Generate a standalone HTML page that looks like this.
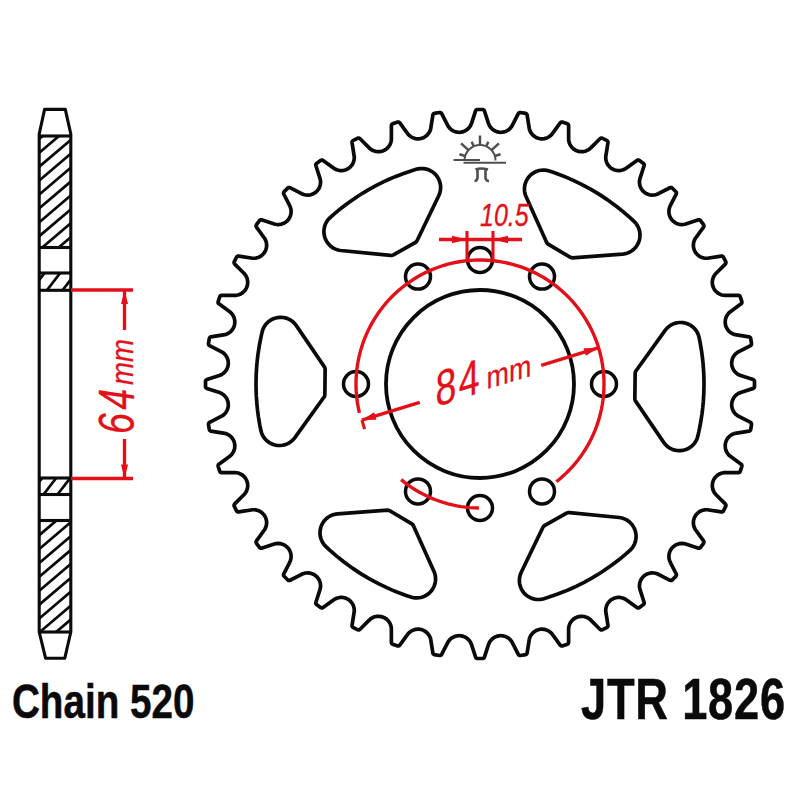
<!DOCTYPE html>
<html><head><meta charset="utf-8"><style>
html,body{margin:0;padding:0;background:#fff;}
svg{display:block;}
text{font-family:"Liberation Sans",sans-serif;}
</style></head><body>
<svg width="800" height="800" viewBox="0 0 800 800">
<defs><clipPath id="hc0"><rect x="39.2" y="136" width="31.599999999999994" height="111.5"/></clipPath><clipPath id="hc1"><rect x="39.2" y="273" width="31.599999999999994" height="17.30000000000001"/></clipPath><clipPath id="hc2"><rect x="39.2" y="478" width="31.599999999999994" height="16.5"/></clipPath><clipPath id="hc3"><rect x="39.2" y="520.5" width="31.599999999999994" height="111.5"/></clipPath></defs>
<rect width="800" height="800" fill="#fff"/>
<path d="M206.90 379.56 L206.38 379.81 L205.96 380.20 L205.66 380.70 L205.52 381.25 L205.52 386.75 L205.66 387.30 L205.96 387.80 L206.38 388.19 L206.90 388.44 L220.31 392.83 L221.37 393.33 L223.15 394.46 L224.06 395.21 L225.50 396.74 L226.75 398.64 L227.23 399.62 L227.91 401.61 L228.28 403.85 L228.27 405.96 L228.13 407.04 L227.55 409.24 L226.68 411.15 L226.10 412.09 L224.68 413.85 L223.10 415.24 L222.12 415.91 L209.56 422.34 L209.09 422.67 L208.84 422.96 L208.58 423.47 L208.47 424.23 L209.29 429.46 L209.47 430.01 L209.93 430.62 L210.23 430.85 L210.77 431.07 L224.89 433.34 L226.96 434.03 L228.02 434.55 L229.79 435.70 L230.68 436.46 L231.45 437.24 L232.74 438.90 L233.33 439.92 L234.16 441.85 L234.69 444.06 L234.83 446.24 L234.62 448.34 L234.37 449.40 L233.59 451.53 L232.54 453.36 L231.88 454.23 L231.09 455.11 L229.48 456.49 L218.89 464.17 L218.48 464.57 L218.27 464.90 L218.07 465.63 L218.11 466.21 L219.81 471.43 L220.11 471.92 L220.39 472.18 L220.88 472.47 L221.44 472.61 L234.71 472.60 L236.83 472.78 L237.99 473.02 L239.03 473.34 L240.95 474.20 L242.78 475.41 L244.37 476.91 L245.74 478.72 L246.70 480.59 L247.08 481.62 L247.39 482.75 L247.69 484.84 L247.70 486.01 L247.47 488.10 L246.83 490.29 L245.88 492.25 L244.60 494.03 L234.52 504.17 L234.22 504.66 L234.07 505.22 L234.09 505.79 L234.19 506.16 L236.69 511.06 L237.22 511.61 L237.73 511.87 L238.30 511.97 L238.68 511.94 L252.62 509.76 L253.80 509.73 L255.89 509.92 L258.09 510.51 L260.00 511.39 L260.93 511.97 L262.69 513.41 L263.44 514.20 L264.68 515.90 L265.26 516.93 L266.04 518.88 L266.52 521.10 L266.61 522.19 L266.53 524.29 L266.06 526.51 L265.28 528.47 L264.72 529.50 L256.44 540.93 L256.25 541.26 L256.08 541.81 L256.08 542.39 L256.33 543.11 L259.44 547.41 L259.84 547.82 L260.53 548.15 L261.10 548.22 L261.48 548.17 L275.09 543.79 L276.25 543.56 L278.43 543.43 L280.53 543.66 L281.67 543.93 L283.64 544.67 L284.61 545.17 L286.47 546.48 L287.97 547.95 L288.70 548.88 L289.81 550.76 L290.57 552.73 L290.84 553.79 L291.10 556.04 L290.99 558.23 L290.50 560.36 L289.70 562.33 L283.67 574.15 L283.53 574.71 L283.57 575.28 L283.76 575.82 L284.10 576.29 L287.86 580.03 L288.53 580.39 L289.10 580.47 L289.48 580.44 L290.03 580.25 L301.67 574.30 L303.64 573.50 L304.78 573.19 L305.86 573.00 L307.96 572.90 L310.21 573.16 L312.23 573.75 L313.24 574.19 L315.19 575.35 L316.79 576.72 L317.52 577.53 L318.24 578.46 L319.30 580.28 L320.10 582.41 L320.49 584.47 L320.57 585.57 L320.44 587.75 L320.21 588.91 L315.83 602.52 L315.81 603.28 L315.98 603.83 L316.18 604.16 L316.59 604.56 L320.89 607.67 L321.42 607.88 L322.19 607.92 L322.56 607.82 L323.07 607.56 L334.50 599.28 L335.53 598.72 L337.49 597.94 L339.71 597.47 L341.81 597.39 L342.99 597.49 L345.04 597.93 L346.07 598.30 L348.10 599.32 L349.80 600.56 L350.59 601.31 L352.03 603.07 L353.07 604.90 L353.49 605.91 L354.08 608.11 L354.27 610.20 L354.24 611.38 L352.06 625.32 L352.05 625.90 L352.13 626.27 L352.51 626.94 L352.94 627.31 L357.84 629.81 L358.40 629.94 L358.97 629.90 L359.34 629.78 L359.83 629.48 L369.21 620.09 L370.83 618.72 L371.82 618.08 L372.79 617.57 L374.75 616.81 L376.89 616.38 L379.08 616.31 L381.33 616.63 L382.38 616.92 L384.33 617.72 L385.35 618.31 L387.03 619.57 L388.59 621.22 L389.76 622.97 L390.28 624.03 L391.00 626.10 L391.35 628.25 L391.39 642.56 L391.53 643.12 L391.82 643.61 L392.24 644.01 L392.57 644.19 L397.79 645.89 L398.37 645.93 L399.10 645.73 L399.58 645.40 L399.83 645.11 L408.15 633.71 L408.95 632.85 L410.57 631.51 L412.54 630.38 L414.52 629.65 L415.58 629.40 L417.84 629.17 L418.93 629.20 L421.01 629.52 L422.15 629.84 L424.08 630.67 L425.99 631.90 L427.54 633.32 L428.25 634.15 L429.49 636.05 L430.33 637.98 L430.66 639.11 L432.89 653.05 L433.06 653.60 L433.26 653.93 L433.82 654.44 L434.35 654.67 L439.58 655.51 L440.16 655.51 L440.53 655.42 L441.04 655.16 L441.57 654.60 L448.09 641.88 L449.39 640.12 L450.21 639.27 L451.84 637.94 L452.85 637.32 L454.76 636.45 L455.81 636.13 L458.04 635.73 L460.15 635.72 L461.32 635.86 L463.44 636.40 L465.36 637.25 L466.30 637.81 L468.08 639.22 L469.54 640.85 L470.71 642.70 L471.53 644.66 L475.63 657.28 L475.93 657.77 L476.36 658.16 L476.88 658.40 L477.45 658.49 L482.75 658.48 L483.48 658.25 L483.94 657.91 L484.19 657.62 L484.44 657.10 L488.47 644.66 L489.29 642.70 L489.88 641.68 L490.51 640.78 L491.92 639.22 L493.70 637.81 L494.64 637.25 L496.56 636.40 L498.77 635.85 L499.85 635.72 L501.96 635.73 L504.19 636.13 L506.17 636.83 L507.23 637.37 L508.16 637.94 L509.79 639.27 L510.61 640.12 L511.91 641.88 L518.43 654.60 L518.67 654.91 L519.12 655.26 L519.84 655.51 L520.42 655.51 L525.65 654.67 L526.18 654.44 L526.74 653.93 L527.01 653.42 L527.11 653.05 L529.34 639.11 L529.67 637.98 L530.51 636.05 L531.11 635.04 L532.40 633.38 L534.08 631.84 L535.84 630.71 L536.83 630.23 L538.99 629.52 L541.07 629.20 L542.16 629.17 L544.42 629.40 L545.48 629.65 L547.46 630.38 L549.43 631.51 L551.05 632.85 L551.85 633.71 L560.17 645.11 L560.57 645.52 L560.90 645.73 L561.63 645.93 L562.21 645.89 L567.43 644.19 L567.76 644.01 L568.18 643.61 L568.47 643.12 L568.61 642.56 L568.60 629.29 L568.78 627.17 L569.02 626.01 L569.34 624.97 L570.20 623.05 L571.41 621.22 L572.97 619.57 L574.72 618.26 L576.59 617.30 L577.62 616.92 L578.75 616.61 L580.84 616.31 L582.01 616.30 L584.10 616.53 L586.29 617.17 L588.25 618.12 L590.03 619.40 L600.17 629.48 L600.66 629.78 L601.03 629.90 L601.60 629.94 L602.16 629.81 L607.06 627.31 L607.49 626.94 L607.87 626.27 L607.95 625.90 L607.94 625.32 L605.76 611.38 L605.73 610.20 L605.92 608.11 L606.51 605.91 L606.93 604.90 L607.97 603.07 L609.41 601.31 L610.20 600.56 L611.90 599.32 L613.93 598.30 L615.94 597.68 L617.10 597.48 L618.19 597.39 L620.29 597.47 L622.51 597.94 L624.47 598.72 L625.50 599.28 L636.93 607.56 L637.44 607.82 L637.81 607.92 L638.39 607.92 L639.11 607.67 L643.41 604.56 L643.82 604.16 L644.15 603.47 L644.22 602.90 L644.17 602.52 L639.79 588.91 L639.56 587.75 L639.43 585.57 L639.66 583.47 L639.93 582.33 L640.67 580.36 L641.17 579.39 L642.48 577.53 L643.95 576.03 L644.88 575.30 L645.80 574.71 L647.69 573.78 L649.79 573.16 L652.04 572.90 L654.23 573.01 L656.36 573.50 L658.33 574.30 L670.15 580.33 L670.71 580.47 L671.28 580.43 L671.82 580.24 L672.29 579.90 L676.03 576.14 L676.32 575.65 L676.47 574.90 L676.40 574.33 L676.25 573.97 L670.30 562.33 L669.50 560.36 L669.19 559.22 L669.00 558.14 L668.90 556.04 L669.16 553.79 L669.75 551.77 L670.19 550.76 L671.35 548.81 L672.03 547.95 L673.53 546.48 L675.39 545.17 L676.36 544.67 L678.33 543.93 L679.47 543.66 L681.57 543.43 L683.75 543.56 L684.91 543.79 L698.52 548.17 L698.90 548.22 L699.47 548.15 L700.16 547.82 L700.56 547.41 L703.67 543.11 L703.92 542.39 L703.92 541.81 L703.75 541.26 L703.56 540.93 L695.28 529.50 L694.72 528.47 L693.94 526.51 L693.47 524.29 L693.39 522.19 L693.48 521.10 L693.68 519.94 L694.30 517.93 L695.32 515.90 L696.56 514.20 L697.31 513.41 L699.07 511.97 L700.90 510.93 L701.91 510.51 L704.11 509.92 L706.20 509.73 L707.38 509.76 L721.32 511.94 L721.90 511.95 L722.27 511.87 L722.94 511.49 L723.31 511.06 L725.81 506.16 L725.94 505.60 L725.90 505.03 L725.78 504.66 L725.48 504.17 L716.09 494.79 L714.72 493.17 L714.08 492.18 L713.57 491.21 L712.81 489.25 L712.38 487.11 L712.31 484.92 L712.63 482.67 L712.92 481.62 L713.72 479.67 L714.31 478.65 L715.57 476.97 L717.22 475.41 L718.97 474.24 L720.03 473.72 L722.10 473.00 L724.25 472.65 L738.56 472.61 L739.12 472.47 L739.61 472.18 L740.01 471.76 L740.19 471.43 L741.89 466.21 L741.93 465.63 L741.73 464.90 L741.40 464.42 L741.11 464.17 L729.71 455.85 L728.85 455.05 L727.51 453.43 L726.38 451.46 L725.65 449.48 L725.40 448.42 L725.17 446.16 L725.31 444.06 L725.52 442.99 L726.23 440.83 L726.71 439.84 L727.84 438.08 L729.38 436.40 L731.04 435.11 L732.05 434.51 L733.98 433.67 L735.11 433.34 L749.05 431.11 L749.60 430.94 L749.93 430.74 L750.44 430.18 L750.67 429.65 L751.51 424.42 L751.51 423.84 L751.42 423.47 L751.16 422.96 L750.60 422.43 L737.88 415.91 L736.12 414.61 L735.27 413.79 L733.94 412.16 L733.37 411.23 L732.83 410.17 L732.13 408.19 L731.73 405.96 L731.72 403.85 L731.86 402.68 L732.40 400.56 L733.25 398.64 L733.81 397.70 L735.22 395.92 L736.85 394.46 L738.70 393.29 L740.66 392.47 L753.28 388.37 L753.77 388.07 L754.16 387.64 L754.40 387.12 L754.49 386.55 L754.48 381.25 L754.25 380.52 L753.91 380.06 L753.62 379.81 L753.10 379.56 L740.66 375.53 L738.70 374.71 L737.68 374.12 L736.78 373.49 L735.22 372.08 L733.81 370.30 L733.25 369.36 L732.40 367.44 L731.85 365.23 L731.72 364.15 L731.73 362.04 L732.13 359.81 L732.45 358.76 L733.32 356.85 L733.94 355.84 L735.27 354.21 L736.12 353.39 L737.88 352.09 L750.60 345.57 L751.16 345.04 L751.42 344.53 L751.51 344.16 L751.51 343.58 L750.67 338.35 L750.44 337.82 L749.93 337.26 L749.60 337.06 L749.05 336.89 L735.11 334.66 L733.98 334.33 L732.05 333.49 L730.15 332.25 L729.32 331.54 L727.90 329.99 L726.67 328.08 L725.84 326.15 L725.52 325.01 L725.31 323.94 L725.17 321.84 L725.40 319.58 L725.65 318.52 L726.38 316.54 L727.51 314.57 L728.85 312.95 L729.71 312.15 L741.11 303.83 L741.52 303.43 L741.73 303.10 L741.93 302.37 L741.89 301.79 L740.19 296.57 L739.89 296.08 L739.61 295.82 L739.12 295.53 L738.56 295.39 L725.29 295.40 L723.17 295.22 L722.01 294.98 L720.97 294.66 L719.05 293.80 L717.22 292.59 L715.57 291.03 L714.26 289.28 L713.30 287.41 L712.92 286.38 L712.61 285.25 L712.31 283.16 L712.30 281.99 L712.53 279.90 L713.17 277.71 L714.12 275.75 L715.40 273.97 L725.48 263.83 L725.78 263.34 L725.90 262.97 L725.94 262.40 L725.81 261.84 L723.31 256.94 L722.94 256.51 L722.27 256.13 L721.90 256.05 L721.32 256.06 L707.38 258.24 L706.20 258.27 L704.11 258.08 L701.91 257.49 L700.00 256.61 L699.07 256.03 L697.31 254.59 L696.56 253.80 L695.32 252.10 L694.74 251.07 L693.96 249.12 L693.48 246.90 L693.39 245.81 L693.47 243.71 L693.94 241.49 L694.72 239.53 L695.28 238.50 L703.56 227.07 L703.82 226.56 L703.92 226.19 L703.92 225.61 L703.67 224.89 L700.56 220.59 L700.16 220.18 L699.47 219.85 L699.09 219.79 L698.52 219.83 L684.91 224.21 L682.74 224.54 L681.57 224.57 L679.47 224.34 L678.33 224.07 L677.29 223.73 L675.39 222.83 L673.53 221.52 L672.03 220.05 L671.30 219.12 L670.23 217.31 L669.78 216.31 L669.16 214.21 L668.90 211.96 L669.01 209.77 L669.50 207.64 L670.30 205.67 L676.33 193.85 L676.47 193.29 L676.43 192.72 L676.24 192.18 L675.90 191.71 L672.14 187.97 L671.65 187.68 L670.90 187.53 L670.52 187.56 L669.97 187.75 L658.33 193.70 L656.36 194.50 L655.22 194.81 L654.14 195.00 L652.04 195.10 L649.79 194.84 L648.73 194.57 L646.76 193.81 L644.81 192.65 L643.21 191.28 L642.42 190.41 L641.21 188.69 L640.70 187.72 L639.90 185.59 L639.66 184.53 L639.43 182.43 L639.56 180.25 L639.79 179.09 L644.17 165.48 L644.22 165.10 L644.15 164.53 L643.82 163.84 L643.41 163.44 L639.11 160.33 L638.39 160.08 L637.81 160.08 L637.26 160.25 L636.93 160.44 L625.50 168.72 L624.47 169.28 L622.51 170.06 L620.29 170.53 L619.20 170.61 L617.10 170.52 L614.88 170.04 L612.93 169.26 L611.90 168.68 L610.20 167.44 L609.41 166.69 L607.97 164.93 L607.39 164.00 L606.51 162.09 L605.92 159.89 L605.73 157.80 L605.76 156.62 L607.94 142.68 L607.95 142.10 L607.87 141.73 L607.61 141.22 L607.06 140.69 L602.16 138.19 L601.60 138.06 L601.22 138.07 L600.66 138.22 L600.17 138.52 L590.79 147.91 L589.17 149.28 L588.18 149.92 L586.21 150.86 L585.17 151.21 L583.11 151.62 L580.92 151.69 L578.67 151.37 L576.67 150.73 L575.67 150.28 L574.65 149.69 L572.97 148.43 L571.41 146.78 L570.24 145.03 L569.72 143.97 L569.00 141.90 L568.65 139.75 L568.61 125.44 L568.47 124.88 L568.18 124.39 L567.76 123.99 L567.43 123.81 L562.21 122.11 L561.63 122.07 L560.90 122.27 L560.42 122.60 L560.17 122.89 L551.85 134.29 L551.05 135.15 L549.43 136.49 L547.46 137.62 L546.45 138.04 L544.42 138.60 L542.16 138.83 L541.07 138.80 L538.99 138.48 L536.83 137.77 L535.84 137.29 L534.08 136.16 L532.40 134.62 L531.11 132.96 L530.51 131.95 L529.67 130.02 L529.34 128.89 L527.11 114.95 L527.01 114.58 L526.74 114.07 L526.18 113.56 L525.65 113.33 L520.42 112.49 L519.84 112.49 L519.12 112.74 L518.67 113.09 L518.43 113.40 L511.91 126.12 L511.24 127.10 L509.79 128.73 L508.16 130.06 L507.23 130.63 L506.17 131.17 L504.19 131.87 L501.96 132.27 L499.85 132.28 L498.68 132.14 L496.56 131.60 L495.55 131.19 L493.70 130.19 L491.98 128.84 L490.46 127.15 L489.29 125.30 L488.47 123.34 L484.37 110.72 L484.07 110.23 L483.64 109.84 L483.12 109.60 L482.55 109.51 L477.25 109.52 L476.52 109.75 L476.06 110.09 L475.81 110.38 L475.56 110.90 L471.53 123.34 L470.71 125.30 L470.12 126.32 L469.49 127.22 L468.08 128.78 L466.30 130.19 L464.45 131.19 L463.44 131.60 L461.23 132.15 L460.15 132.28 L458.04 132.27 L455.81 131.87 L453.83 131.17 L452.77 130.63 L451.03 129.46 L450.21 128.73 L448.76 127.10 L448.09 126.12 L441.57 113.40 L441.04 112.84 L440.53 112.58 L440.16 112.49 L439.58 112.49 L434.35 113.33 L433.66 113.67 L433.26 114.07 L432.99 114.58 L432.89 114.95 L430.66 128.89 L430.33 130.02 L429.49 131.95 L428.25 133.85 L426.83 135.40 L425.92 136.16 L424.16 137.29 L423.17 137.77 L421.01 138.48 L419.94 138.69 L417.84 138.83 L415.58 138.60 L414.52 138.35 L412.54 137.62 L410.57 136.49 L408.95 135.15 L408.15 134.29 L399.83 122.89 L399.43 122.48 L399.10 122.27 L398.56 122.09 L397.79 122.11 L392.57 123.81 L392.08 124.11 L391.82 124.39 L391.53 124.88 L391.39 125.44 L391.40 138.71 L391.22 140.83 L390.98 141.99 L390.66 143.03 L389.80 144.95 L388.59 146.78 L387.09 148.37 L385.28 149.74 L383.41 150.70 L382.38 151.08 L381.25 151.39 L379.16 151.69 L377.99 151.70 L375.90 151.47 L373.71 150.83 L371.75 149.88 L369.97 148.60 L359.83 138.52 L359.34 138.22 L358.78 138.07 L358.21 138.09 L357.84 138.19 L352.94 140.69 L352.51 141.06 L352.13 141.73 L352.03 142.30 L352.06 142.68 L354.24 156.62 L354.27 157.80 L354.08 159.89 L353.49 162.09 L352.61 164.00 L352.03 164.93 L350.59 166.69 L349.01 168.07 L348.10 168.68 L346.07 169.70 L344.06 170.32 L342.90 170.52 L341.81 170.61 L339.71 170.53 L337.49 170.06 L335.53 169.28 L334.50 168.72 L323.07 160.44 L322.74 160.25 L322.19 160.08 L321.42 160.12 L320.89 160.33 L316.59 163.44 L316.18 163.84 L315.98 164.17 L315.81 164.72 L315.83 165.48 L320.21 179.09 L320.44 180.25 L320.57 182.43 L320.34 184.53 L320.07 185.67 L319.33 187.64 L318.83 188.61 L317.52 190.47 L316.05 191.97 L315.12 192.70 L313.24 193.81 L311.27 194.57 L310.21 194.84 L308.04 195.10 L305.77 194.99 L303.64 194.50 L301.67 193.70 L289.85 187.67 L289.29 187.53 L288.72 187.57 L288.18 187.76 L287.71 188.10 L283.97 191.86 L283.68 192.35 L283.53 193.10 L283.56 193.48 L283.75 194.03 L289.70 205.67 L290.50 207.64 L290.81 208.78 L291.00 209.86 L291.10 211.96 L290.84 214.21 L290.25 216.23 L289.81 217.24 L288.65 219.19 L287.28 220.79 L286.41 221.58 L285.54 222.24 L283.72 223.30 L281.59 224.10 L279.53 224.49 L278.43 224.57 L277.26 224.54 L275.09 224.21 L261.48 219.83 L260.91 219.79 L260.53 219.85 L259.84 220.18 L259.44 220.59 L256.33 224.89 L256.08 225.61 L256.08 226.19 L256.25 226.74 L256.44 227.07 L264.72 238.50 L265.28 239.53 L266.06 241.49 L266.53 243.71 L266.61 245.81 L266.51 246.99 L266.07 249.04 L265.70 250.07 L264.68 252.10 L263.44 253.80 L262.69 254.59 L260.93 256.03 L260.00 256.61 L258.09 257.49 L255.89 258.08 L253.80 258.27 L252.62 258.24 L238.68 256.06 L238.30 256.03 L237.73 256.13 L237.06 256.51 L236.69 256.94 L234.19 261.84 L234.09 262.21 L234.07 262.78 L234.22 263.34 L234.52 263.83 L243.91 273.21 L245.28 274.83 L245.92 275.82 L246.83 277.71 L247.19 278.75 L247.62 280.89 L247.69 283.16 L247.37 285.33 L246.73 287.33 L246.28 288.33 L245.69 289.35 L244.43 291.03 L242.78 292.59 L241.03 293.76 L239.97 294.28 L237.90 295.00 L235.75 295.35 L221.44 295.39 L220.88 295.53 L220.39 295.82 L220.11 296.08 L219.81 296.57 L218.11 301.79 L218.09 302.56 L218.27 303.10 L218.60 303.58 L218.89 303.83 L229.48 311.51 L231.09 312.89 L231.88 313.77 L232.54 314.64 L233.59 316.47 L234.37 318.60 L234.76 320.66 L234.83 321.76 L234.68 324.02 L234.47 325.10 L233.80 327.09 L232.74 329.10 L232.10 329.99 L230.68 331.54 L229.79 332.30 L228.02 333.45 L226.96 333.97 L224.89 334.66 L210.77 336.93 L210.40 337.06 L209.93 337.38 L209.47 337.99 L209.29 338.54 L208.47 343.77 L208.58 344.53 L208.84 345.04 L209.09 345.33 L209.56 345.66 L222.12 352.09 L223.10 352.76 L224.68 354.15 L226.10 355.91 L227.13 357.75 L227.55 358.76 L228.13 360.96 L228.32 363.05 L228.28 364.15 L227.91 366.39 L227.23 368.38 L226.75 369.36 L225.50 371.26 L224.06 372.79 L223.15 373.54 L221.30 374.71 L219.34 375.53 L206.90 379.56Z" fill="none" stroke="#0a0a0a" stroke-width="3.7" stroke-linejoin="round"/>
<path d="M548.55 244.43 L570.36 257.37 L571.32 257.70 L572.58 257.83 L622.39 254.13 L624.25 253.90 L626.96 253.22 L628.71 252.55 L630.37 251.70 L631.95 250.70 L633.42 249.55 L634.77 248.26 L635.99 246.85 L637.06 245.32 L637.98 243.69 L638.73 241.98 L639.31 240.21 L639.71 238.38 L639.94 236.53 L639.98 234.66 L639.84 232.80 L639.51 230.96 L639.01 229.16 L638.33 227.42 L637.48 225.76 L636.48 224.18 L635.32 222.72 L634.03 221.37 L630.58 218.16 L623.63 212.11 L616.63 206.50 L611.85 202.92 L607.18 199.61 L599.70 194.66 L591.81 189.90 L586.81 187.11 L581.52 184.33 L573.22 180.32 L567.75 177.90 L562.46 175.73 L553.82 172.51 L548.46 170.74 L546.63 170.34 L544.78 170.12 L542.91 170.08 L541.05 170.22 L539.21 170.54 L537.41 171.05 L535.67 171.73 L534.01 172.57 L532.44 173.58 L530.97 174.73 L529.62 176.03 L528.41 177.45 L527.34 178.98 L526.43 180.61 L525.68 182.32 L525.10 184.10 L524.70 185.92 L524.48 187.78 L524.45 189.64 L524.60 191.50 L524.93 193.34 L525.44 195.14 L526.12 196.88 L546.55 242.19 L546.91 242.85 L547.55 243.65 L548.55 244.43Z" fill="none" stroke="#0a0a0a" stroke-width="3.7"/>
<path d="M635.15 373.58 L634.85 398.93 L635.04 399.93 L635.56 401.09 L663.67 442.38 L664.79 443.87 L666.74 445.88 L668.20 447.06 L669.76 448.08 L671.41 448.94 L673.14 449.64 L674.94 450.17 L676.77 450.51 L678.63 450.68 L680.50 450.66 L682.36 450.45 L684.18 450.07 L685.97 449.51 L687.68 448.78 L689.32 447.88 L690.86 446.82 L692.29 445.62 L693.60 444.29 L694.76 442.83 L695.78 441.26 L696.64 439.61 L697.34 437.87 L697.86 436.08 L698.91 431.48 L700.68 422.44 L702.04 413.58 L702.75 407.64 L703.28 401.94 L703.82 392.99 L704.00 383.78 L703.92 378.06 L703.68 372.08 L703.00 362.89 L702.36 356.95 L701.60 351.28 L700.06 342.19 L698.92 336.66 L698.35 334.88 L697.62 333.16 L696.72 331.52 L695.67 329.98 L694.46 328.55 L693.13 327.25 L691.67 326.08 L690.10 325.06 L688.45 324.20 L686.71 323.51 L684.92 322.99 L683.08 322.65 L681.22 322.49 L679.36 322.51 L677.50 322.72 L675.67 323.11 L673.89 323.67 L672.18 324.41 L670.54 325.32 L669.00 326.37 L667.58 327.58 L666.28 328.92 L665.11 330.38 L636.09 370.72 L635.69 371.37 L635.32 372.32 L635.15 373.58Z" fill="none" stroke="#0a0a0a" stroke-width="3.7"/>
<path d="M566.60 513.15 L544.49 525.57 L543.72 526.23 L542.98 527.26 L521.27 572.25 L520.54 573.97 L519.78 576.66 L519.49 578.51 L519.39 580.37 L519.46 582.24 L519.73 584.09 L520.17 585.90 L520.79 587.67 L521.57 589.36 L522.52 590.97 L523.63 592.47 L524.87 593.86 L526.25 595.13 L527.74 596.25 L529.34 597.21 L531.03 598.02 L532.78 598.66 L534.59 599.12 L536.44 599.40 L538.30 599.51 L540.17 599.42 L542.01 599.16 L543.83 598.71 L548.33 597.32 L557.05 594.33 L565.41 591.08 L570.90 588.73 L576.10 586.34 L584.12 582.33 L592.19 577.88 L597.11 574.95 L602.16 571.76 L609.78 566.57 L614.61 563.04 L619.14 559.55 L626.24 553.67 L630.46 549.91 L631.72 548.54 L632.84 547.04 L633.81 545.45 L634.61 543.76 L635.25 542.01 L635.71 540.20 L636.00 538.35 L636.10 536.49 L636.01 534.62 L635.74 532.77 L635.30 530.96 L634.68 529.20 L633.88 527.51 L632.93 525.90 L631.82 524.40 L630.57 523.01 L629.19 521.75 L627.69 520.64 L626.09 519.67 L624.41 518.87 L622.65 518.24 L620.84 517.78 L618.99 517.50 L569.54 512.54 L568.78 512.52 L567.78 512.68 L566.60 513.15Z" fill="none" stroke="#0a0a0a" stroke-width="3.7"/>
<path d="M411.45 523.57 L389.64 510.63 L388.68 510.30 L387.42 510.17 L337.61 513.87 L335.75 514.10 L333.04 514.78 L331.29 515.45 L329.63 516.30 L328.05 517.30 L326.58 518.45 L325.23 519.74 L324.01 521.15 L322.94 522.68 L322.02 524.31 L321.27 526.02 L320.69 527.79 L320.29 529.62 L320.06 531.47 L320.02 533.34 L320.16 535.20 L320.49 537.04 L320.99 538.84 L321.67 540.58 L322.52 542.24 L323.52 543.82 L324.68 545.28 L325.97 546.63 L329.42 549.84 L336.37 555.89 L343.37 561.50 L348.15 565.08 L352.82 568.39 L360.30 573.34 L368.19 578.10 L373.19 580.89 L378.48 583.67 L386.78 587.68 L392.25 590.10 L397.54 592.27 L406.18 595.49 L411.54 597.26 L413.37 597.66 L415.22 597.88 L417.09 597.92 L418.95 597.78 L420.79 597.46 L422.59 596.95 L424.33 596.27 L425.99 595.43 L427.56 594.42 L429.03 593.27 L430.38 591.97 L431.59 590.55 L432.66 589.02 L433.57 587.39 L434.32 585.68 L434.90 583.90 L435.30 582.08 L435.52 580.22 L435.55 578.36 L435.40 576.50 L435.07 574.66 L434.56 572.86 L433.88 571.12 L413.45 525.81 L413.09 525.15 L412.45 524.35 L411.45 523.57Z" fill="none" stroke="#0a0a0a" stroke-width="3.7"/>
<path d="M324.85 394.42 L325.15 369.07 L324.96 368.07 L324.44 366.91 L296.33 325.62 L295.21 324.13 L293.26 322.12 L291.80 320.94 L290.24 319.92 L288.59 319.06 L286.86 318.36 L285.06 317.83 L283.23 317.49 L281.37 317.32 L279.50 317.34 L277.64 317.55 L275.82 317.93 L274.03 318.49 L272.32 319.22 L270.68 320.12 L269.14 321.18 L267.71 322.38 L266.40 323.71 L265.24 325.17 L264.22 326.74 L263.36 328.39 L262.66 330.13 L262.14 331.92 L261.09 336.52 L259.32 345.56 L257.96 354.42 L257.25 360.36 L256.72 366.06 L256.18 375.01 L256.00 384.22 L256.08 389.94 L256.32 395.92 L257.00 405.11 L257.64 411.05 L258.40 416.72 L259.94 425.81 L261.08 431.34 L261.65 433.12 L262.38 434.84 L263.28 436.48 L264.33 438.02 L265.54 439.45 L266.87 440.75 L268.33 441.92 L269.90 442.94 L271.55 443.80 L273.29 444.49 L275.08 445.01 L276.92 445.35 L278.78 445.51 L280.64 445.49 L282.50 445.28 L284.33 444.89 L286.11 444.33 L287.82 443.59 L289.46 442.68 L291.00 441.63 L292.42 440.42 L293.72 439.08 L294.89 437.62 L323.91 397.28 L324.31 396.63 L324.68 395.68 L324.85 394.42Z" fill="none" stroke="#0a0a0a" stroke-width="3.7"/>
<path d="M393.40 254.85 L415.51 242.43 L416.28 241.77 L417.02 240.74 L438.73 195.75 L439.46 194.03 L440.22 191.34 L440.51 189.49 L440.61 187.63 L440.54 185.76 L440.27 183.91 L439.83 182.10 L439.21 180.33 L438.43 178.64 L437.48 177.03 L436.37 175.53 L435.13 174.14 L433.75 172.87 L432.26 171.75 L430.66 170.79 L428.97 169.98 L427.22 169.34 L425.41 168.88 L423.56 168.60 L421.70 168.49 L419.83 168.58 L417.99 168.84 L416.17 169.29 L411.67 170.68 L402.95 173.67 L394.59 176.92 L389.10 179.27 L383.90 181.66 L375.88 185.67 L367.81 190.12 L362.89 193.05 L357.84 196.24 L350.22 201.43 L345.39 204.96 L340.86 208.45 L333.76 214.33 L329.54 218.09 L328.28 219.46 L327.16 220.96 L326.19 222.55 L325.39 224.24 L324.75 225.99 L324.29 227.80 L324.00 229.65 L323.90 231.51 L323.99 233.38 L324.26 235.23 L324.70 237.04 L325.32 238.80 L326.12 240.49 L327.07 242.10 L328.18 243.60 L329.43 244.99 L330.81 246.25 L332.31 247.36 L333.91 248.33 L335.59 249.13 L337.35 249.76 L339.16 250.22 L341.01 250.50 L390.46 255.46 L391.22 255.48 L392.22 255.32 L393.40 254.85Z" fill="none" stroke="#0a0a0a" stroke-width="3.7"/>
<circle cx="480.0" cy="384.0" r="94.0" fill="none" stroke="#0a0a0a" stroke-width="3.8"/>
<circle cx="480.00" cy="260.00" r="12.5" fill="none" stroke="#0a0a0a" stroke-width="3.5"/>
<circle cx="542.00" cy="276.61" r="12.5" fill="none" stroke="#0a0a0a" stroke-width="3.5"/>
<circle cx="604.00" cy="384.00" r="12.5" fill="none" stroke="#0a0a0a" stroke-width="3.5"/>
<circle cx="542.00" cy="491.39" r="12.5" fill="none" stroke="#0a0a0a" stroke-width="3.5"/>
<circle cx="480.00" cy="508.00" r="12.5" fill="none" stroke="#0a0a0a" stroke-width="3.5"/>
<circle cx="418.00" cy="491.39" r="12.5" fill="none" stroke="#0a0a0a" stroke-width="3.5"/>
<circle cx="356.00" cy="384.00" r="12.5" fill="none" stroke="#0a0a0a" stroke-width="3.5"/>
<circle cx="418.00" cy="276.61" r="12.5" fill="none" stroke="#0a0a0a" stroke-width="3.5"/>
<path d="M359.43 412.95 L358.48 408.70 L357.69 404.41 L357.05 400.11 L356.56 395.78 L356.22 391.44 L356.04 387.09 L356.01 382.73 L356.13 378.38 L356.40 374.03 L356.83 369.70 L357.41 365.38 L358.13 361.09 L359.01 356.82 L360.04 352.59 L361.22 348.40 L362.54 344.25 L364.01 340.15 L365.62 336.11 L367.38 332.12 L369.27 328.20 L371.29 324.34 L373.46 320.56 L375.75 316.86 L378.17 313.24 L380.72 309.71 L383.39 306.27 L386.18 302.92 L389.08 299.68 L392.10 296.54 L395.22 293.51 L398.45 290.58 L401.79 287.78 L405.21 285.09 L408.73 282.53 L412.34 280.09 L416.03 277.78 L419.80 275.59 L423.64 273.55 L427.56 271.64 L431.53 269.86 L435.57 268.23 L439.66 266.74 L443.81 265.40 L447.99 264.20 L452.22 263.15 L456.48 262.25 L460.77 261.50 L465.08 260.90 L469.41 260.45 L473.76 260.16 L478.11 260.01 L482.47 260.02 L486.82 260.19 L491.16 260.50 L495.49 260.97 L499.80 261.59 L504.09 262.36 L508.34 263.28 L512.56 264.35 L516.75 265.57 L520.88 266.93 L524.97 268.44 L529.00 270.09 L532.97 271.88 L536.87 273.81 L540.71 275.88 L544.46 278.07 L548.14 280.40 L551.74 282.86 L555.25 285.44 L558.66 288.14 L561.98 290.97 L565.19 293.90 L568.31 296.95 L571.31 300.10 L574.20 303.36 L576.97 306.72 L579.63 310.17 L582.16 313.71 L584.56 317.34 L586.84 321.06 L588.98 324.85 L590.99 328.71 L592.86 332.64 L594.60 336.64 L596.19 340.69 L597.64 344.80 L598.94 348.95 L600.10 353.15 L601.11 357.39 L601.97 361.66 L602.68 365.95 L603.24 370.27 L603.64 374.61 L603.90 378.95 L604.00 383.31 L603.95 387.66 L603.74 392.01 L603.38 396.35 L602.87 400.68 L602.21 404.98 L601.40 409.26 L600.44 413.51 L599.33 417.72 L598.07 421.89 L596.67 426.01 L595.12 430.08 L593.43 434.09 L591.60 438.05 L589.64 441.93 L587.53 445.75 L585.30 449.48 L582.93 453.14 L580.44 456.71 L577.83 460.20 L575.09 463.58 L572.24 466.87 L569.27 470.06 L566.20 473.14 L563.01 476.11 L559.73 478.97 L556.34 481.71" fill="none" stroke="#e3101a" stroke-width="3.4"/>
<path d="M401.13 479.68 L404.60 482.45 L408.18 485.08 L411.85 487.59 L415.60 489.96 L419.44 492.20 L423.35 494.30 L427.34 496.26 L431.39 498.08 L435.51 499.74 L439.68 501.26 L443.91 502.63 L448.18 503.85 L452.49 504.91 L456.84 505.82 L461.22 506.57 L465.62 507.16 L470.04 507.60 L474.48 507.88 L478.92 508.00" fill="none" stroke="#e3101a" stroke-width="3.4"/>
<line x1="361.90" y1="420.11" x2="419.75" y2="402.42" stroke="#e3101a" stroke-width="3.4"/>
<line x1="541.20" y1="365.29" x2="598.10" y2="347.89" stroke="#e3101a" stroke-width="3.4"/>
<path d="M361.90 420.11 L374.12 412.19 L376.45 419.84Z" fill="#e3101a"/>
<path d="M598.10 347.89 L585.88 355.81 L583.55 348.16Z" fill="#e3101a"/>
<line x1="361.90" y1="420.11" x2="364.60" y2="429.11" stroke="#e3101a" stroke-width="3.1"/>
<g fill="#e3101a" stroke="#e3101a" stroke-width="0.25" font-family="Liberation Sans"><text transform="translate(435.5 407) skewY(-17) scale(0.75 1)" font-size="50">8<tspan dx="3.3" dy="-0.6">4</tspan></text><text transform="translate(486.5 389.2) skewY(-16.5) scale(0.86 1)" font-size="31.25">mm</text></g>
<line x1="439" y1="239.5" x2="522" y2="239.5" stroke="#e3101a" stroke-width="3.4"/>
<line x1="467" y1="231" x2="467" y2="262" stroke="#e3101a" stroke-width="3.1"/>
<line x1="493" y1="231" x2="493" y2="262" stroke="#e3101a" stroke-width="3.1"/>
<path d="M467.00 239.50 L452.00 243.25 L452.00 235.75Z" fill="#e3101a"/>
<path d="M493.00 239.50 L508.00 235.75 L508.00 243.25Z" fill="#e3101a"/>
<text x="0" y="0" transform="translate(480 226) scale(0.82 1)" font-family="Liberation Sans" font-style="italic" font-size="30.5" fill="#e3101a" stroke="#e3101a" stroke-width="0.3">10.5</text>
<path d="M44.6 109.4 L65.3 109.4 L70.8 134 L70.8 632 L64.8 658.2 L45.6 658.2 L39.2 632 L39.2 134 Z" fill="none" stroke="#0a0a0a" stroke-width="3.1" stroke-linejoin="round"/>
<line x1="39.2" y1="136" x2="70.8" y2="136" stroke="#0a0a0a" stroke-width="3.1"/>
<line x1="39.2" y1="247.5" x2="70.8" y2="247.5" stroke="#0a0a0a" stroke-width="3.1"/>
<line x1="39.2" y1="273" x2="70.8" y2="273" stroke="#0a0a0a" stroke-width="3.1"/>
<line x1="39.2" y1="290.3" x2="70.8" y2="290.3" stroke="#0a0a0a" stroke-width="3.1"/>
<line x1="39.2" y1="478" x2="70.8" y2="478" stroke="#0a0a0a" stroke-width="3.1"/>
<line x1="39.2" y1="494.5" x2="70.8" y2="494.5" stroke="#0a0a0a" stroke-width="3.1"/>
<line x1="39.2" y1="520.5" x2="70.8" y2="520.5" stroke="#0a0a0a" stroke-width="3.1"/>
<line x1="39.2" y1="632" x2="70.8" y2="632" stroke="#0a0a0a" stroke-width="3.1"/>
<path d="M37.2 15.50 L72.8 -14.76 M37.2 29.40 L72.8 -0.86 M37.2 43.30 L72.8 13.04 M37.2 57.20 L72.8 26.94 M37.2 71.10 L72.8 40.84 M37.2 85.00 L72.8 54.74 M37.2 98.90 L72.8 68.64 M37.2 112.80 L72.8 82.54 M37.2 126.70 L72.8 96.44 M37.2 140.60 L72.8 110.34 M37.2 154.50 L72.8 124.24 M37.2 168.40 L72.8 138.14 M37.2 182.30 L72.8 152.04 M37.2 196.20 L72.8 165.94 M37.2 210.10 L72.8 179.84 M37.2 224.00 L72.8 193.74 M37.2 237.90 L72.8 207.64 M37.2 251.80 L72.8 221.54 M37.2 265.70 L72.8 235.44 M37.2 279.60 L72.8 249.34" stroke="#0a0a0a" stroke-width="2.7" clip-path="url(#hc0)"/>
<path d="M37.2 100.11 L72.8 53.83 M37.2 120.39 L72.8 74.11 M37.2 140.67 L72.8 94.39 M37.2 160.95 L72.8 114.67 M37.2 181.23 L72.8 134.95 M37.2 201.51 L72.8 155.23 M37.2 221.79 L72.8 175.51 M37.2 242.07 L72.8 195.79 M37.2 262.35 L72.8 216.07 M37.2 282.63 L72.8 236.35 M37.2 302.91 L72.8 256.63 M37.2 323.19 L72.8 276.91 M37.2 343.47 L72.8 297.19" stroke="#0a0a0a" stroke-width="2.7" clip-path="url(#hc1)"/>
<path d="M37.2 320.69 L72.8 274.41 M37.2 338.89 L72.8 292.61 M37.2 357.09 L72.8 310.81 M37.2 375.29 L72.8 329.01 M37.2 393.49 L72.8 347.21 M37.2 411.69 L72.8 365.41 M37.2 429.89 L72.8 383.61 M37.2 448.09 L72.8 401.81 M37.2 466.29 L72.8 420.01 M37.2 484.49 L72.8 438.21 M37.2 502.69 L72.8 456.41 M37.2 520.89 L72.8 474.61 M37.2 539.09 L72.8 492.81" stroke="#0a0a0a" stroke-width="2.7" clip-path="url(#hc2)"/>
<path d="M37.2 397.90 L72.8 367.64 M37.2 411.80 L72.8 381.54 M37.2 425.70 L72.8 395.44 M37.2 439.60 L72.8 409.34 M37.2 453.50 L72.8 423.24 M37.2 467.40 L72.8 437.14 M37.2 481.30 L72.8 451.04 M37.2 495.20 L72.8 464.94 M37.2 509.10 L72.8 478.84 M37.2 523.00 L72.8 492.74 M37.2 536.90 L72.8 506.64 M37.2 550.80 L72.8 520.54 M37.2 564.70 L72.8 534.44 M37.2 578.60 L72.8 548.34 M37.2 592.50 L72.8 562.24 M37.2 606.40 L72.8 576.14 M37.2 620.30 L72.8 590.04 M37.2 634.20 L72.8 603.94 M37.2 648.10 L72.8 617.84 M37.2 662.00 L72.8 631.74" stroke="#0a0a0a" stroke-width="2.7" clip-path="url(#hc3)"/>
<line x1="71" y1="290" x2="133" y2="290" stroke="#e3101a" stroke-width="3.4"/>
<line x1="71" y1="478.5" x2="133" y2="478.5" stroke="#e3101a" stroke-width="3.4"/>
<line x1="124.5" y1="290" x2="124.5" y2="330" stroke="#e3101a" stroke-width="3.4"/>
<line x1="124.5" y1="439" x2="124.5" y2="478.5" stroke="#e3101a" stroke-width="3.4"/>
<path d="M124.50 290.00 L128.00 304.00 L121.00 304.00Z" fill="#e3101a"/>
<path d="M124.50 478.50 L121.00 464.50 L128.00 464.50Z" fill="#e3101a"/>
<g transform="translate(133.5 431) rotate(-90)" fill="#e3101a" stroke="#e3101a" stroke-width="0.25" font-family="Liberation Sans" font-style="italic"><text transform="translate(-3 0) scale(0.75 1)" font-size="50">6<tspan dx="4.7">4</tspan></text><text transform="translate(46 -1) scale(0.86 1)" font-size="32">mm</text></g>
<path d="M464.5 160.5 A15.5 15.5 0 0 1 495.5 160.5" fill="none" stroke="#4f4f4f" stroke-width="2"/>
<line x1="453.5" y1="160" x2="480" y2="160" stroke="#4f4f4f" stroke-width="2"/>
<line x1="463.5" y1="162.8" x2="506" y2="162.8" stroke="#4f4f4f" stroke-width="2"/>
<line x1="480.00" y1="145.00" x2="480.00" y2="135.50" stroke="#4f4f4f" stroke-width="2.5"/>
<line x1="486.30" y1="146.34" x2="488.34" y2="141.77" stroke="#4f4f4f" stroke-width="2.5"/>
<line x1="473.70" y1="146.34" x2="471.66" y2="141.77" stroke="#4f4f4f" stroke-width="2.5"/>
<line x1="491.52" y1="150.13" x2="498.95" y2="143.44" stroke="#4f4f4f" stroke-width="2.5"/>
<line x1="468.48" y1="150.13" x2="461.05" y2="143.44" stroke="#4f4f4f" stroke-width="2.5"/>
<line x1="494.82" y1="155.97" x2="500.56" y2="154.21" stroke="#4f4f4f" stroke-width="2.5"/>
<line x1="465.18" y1="155.97" x2="459.44" y2="154.21" stroke="#4f4f4f" stroke-width="2.5"/>
<path d="M475.5 169.5 Q481 167.5 488 169.5 M477.5 169 L477.5 178 Q477 181 474.5 181 M485.5 169 L485.5 178 Q486 181 489 181" fill="none" stroke="#4f4f4f" stroke-width="2.6"/>
<text x="0" y="0" transform="translate(12 718) scale(0.813 1)" font-family="Liberation Sans" font-weight="bold" font-size="47.5" fill="#0a0a0a" stroke="#0a0a0a" stroke-width="0.5">Chain 520</text>
<text x="0" y="0" transform="translate(581 718.5) scale(0.78 1)" font-family="Liberation Sans" font-weight="bold" font-size="58" letter-spacing="1" fill="#0a0a0a" stroke="#0a0a0a" stroke-width="0.5">JTR 1826</text>
</svg>
</body></html>
